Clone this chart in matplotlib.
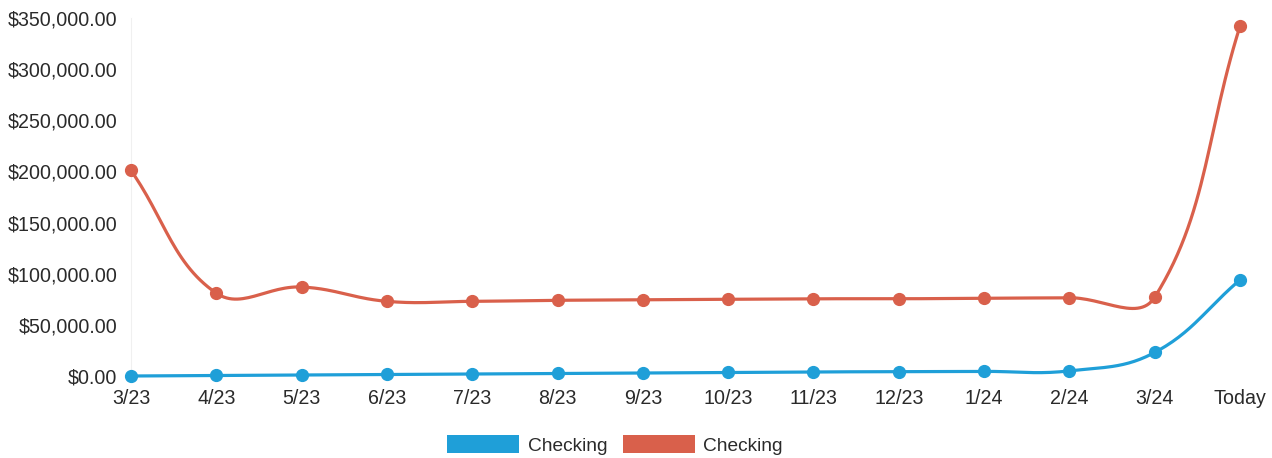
import numpy as np
import matplotlib
matplotlib.use("Agg")
import matplotlib.pyplot as plt
from matplotlib.patches import Patch
from matplotlib.ticker import FuncFormatter

labels = ["3/23", "4/23", "5/23", "6/23", "7/23", "8/23", "9/23", "10/23",
          "11/23", "12/23", "1/24", "2/24", "3/24", "Today"]
blue_vals = [0, 500, 1000, 1500, 2000, 2500, 3000, 3500, 4000, 4200, 4500, 5000, 23000, 94000]
red_vals = [201000, 81000, 87000, 73000, 73000, 74000, 74500, 75000, 75500, 75500, 76000, 76500, 77000, 342000]
series_names = ["Checking", "Checking"]

BLUE = "#1f9fd8"
RED = "#d9604b"

plt.rcParams["font.family"] = ["Liberation Sans", "DejaVu Sans"]

fig = plt.figure(figsize=(12.72, 4.58), dpi=100)
L, R, B, T = 131 / 1272, 1240 / 1272, (458 - 376) / 458, (458 - 18) / 458
ax = fig.add_axes([L, B, R - L, T - B])

n = len(labels)
x = np.arange(n)
ax.set_xlim(0, n - 1)
ax.set_ylim(0, 350000)

# pixel scale for spline control points
sx = (1240 - 131) / (n - 1)
sy = (376 - 18) / 350000.0


def spline_path(xs, ys, t=0.4, steps=30):
    px = np.asarray(xs, float) * sx
    py = np.asarray(ys, float) * sy
    m = len(px)
    cp_prev = np.zeros((m, 2))
    cp_next = np.zeros((m, 2))
    for i in range(m):
        cur = np.array([px[i], py[i]])
        prev = np.array([px[i - 1], py[i - 1]]) if i > 0 else cur
        nxt = np.array([px[i + 1], py[i + 1]]) if i < m - 1 else cur
        d01 = np.hypot(*(cur - prev))
        d12 = np.hypot(*(nxt - cur))
        tot = d01 + d12
        s01 = d01 / tot if tot else 0
        s12 = d12 / tot if tot else 0
        cp_prev[i] = cur - t * s01 * (nxt - prev)
        cp_next[i] = cur + t * s12 * (nxt - prev)
    outx, outy = [], []
    u = np.linspace(0, 1, steps)
    for i in range(m - 1):
        p0 = np.array([px[i], py[i]])
        p3 = np.array([px[i + 1], py[i + 1]])
        p1 = cp_next[i]
        p2 = cp_prev[i + 1]
        pts = ((1 - u) ** 3)[:, None] * p0 + (3 * (1 - u) ** 2 * u)[:, None] * p1 \
            + (3 * (1 - u) * u ** 2)[:, None] * p2 + (u ** 3)[:, None] * p3
        outx.extend(pts[:, 0])
        outy.extend(pts[:, 1])
    return np.array(outx) / sx, np.array(outy) / sy


for vals, col in [(red_vals, RED), (blue_vals, BLUE)]:
    cx, cy = spline_path(x, vals)
    ax.plot(cx, cy, color=col, lw=2.3, clip_on=False, zorder=3, solid_capstyle="round")
    ax.plot(x, vals, "o", color=col, ms=8.5, clip_on=False, zorder=4, mec=col)

ax.set_xticks(x)
ax.set_xticklabels(labels)
ax.set_yticks(np.arange(0, 350001, 50000))
ax.yaxis.set_major_formatter(FuncFormatter(lambda v, p: f"${v:,.2f}"))

for s in ["top", "right", "bottom"]:
    ax.spines[s].set_visible(False)
ax.spines["left"].set_color("#f0f0f0")
ax.tick_params(axis="both", length=0, labelsize=14.1, colors="#2a2a2a")
ax.tick_params(axis="y", pad=10)
ax.tick_params(axis="x", pad=9.5)

handles = [Patch(facecolor=BLUE, edgecolor="none"), Patch(facecolor=RED, edgecolor="none")]
fig.legend(handles, series_names, loc="center", bbox_to_anchor=(615 / 1272, 1 - 445 / 458),
           ncol=2, frameon=False, fontsize=13.8, handlelength=3.75, handleheight=1.05,
           handletextpad=0.45, columnspacing=0.8, labelcolor="#2a2a2a",
           borderpad=0, borderaxespad=0)

fig.savefig("out.png", dpi=100)
